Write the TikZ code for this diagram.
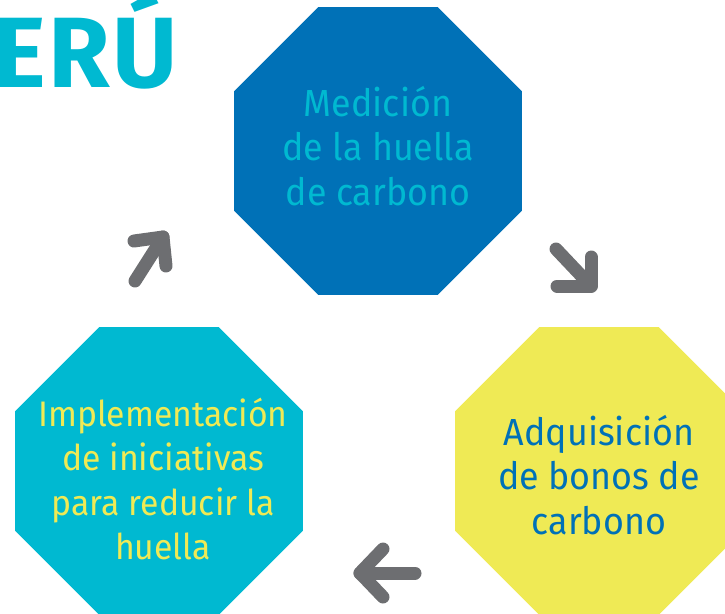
\documentclass[tikz,border=0pt]{standalone}
\usepackage{fontspec}
\setmainfont{Fira Sans}
\newfontfamily\lightf[FakeStretch=0.95]{Fira Sans}
\usetikzlibrary{shapes.geometric}
\definecolor{dblue}{HTML}{0071B7}
\definecolor{cyanb}{HTML}{00B9D1}
\definecolor{yell}{HTML}{EFEA55}
\definecolor{agray}{HTML}{6D6E71}
\begin{document}
\begin{tikzpicture}[x=1pt,y=-1pt,
  octa/.style={regular polygon, regular polygon sides=8, minimum size=311.7pt, inner sep=0pt, draw=none},
  lbl/.style={align=center, inner sep=0pt, font=\lightf\fontsize{37.7}{44.5}\selectfont},
  lbls/.style={align=center, inner sep=0pt, font=\lightf\fontsize{35.5}{44.3}\selectfont},
  arr/.style={draw=agray, line width=13pt, line cap=round, line join=round}]
\useasboundingbox (0,0) rectangle (725,613);
\clip (0,0) rectangle (725,613);
% title
\node[anchor=base west, inner sep=0pt, text=cyanb, font=\fontsize{100}{100}\selectfont\bfseries\addfontfeatures{LetterSpace=3}] (title) at (-7,87) {ERÚ};
% octagons
\node[octa, fill=dblue] (med) at (378,151) {};
\node[octa, fill=yell] (adq) at (599,471) {};
\node[octa, fill=cyanb] (imp) at (159,471) {};
% labels
\node[lbl, text=cyanb] (medt) at (378,146) {Medición\\de la huella\\de carbono};
\node[lbl, text=dblue] (adqt) at (599,475) {Adquisición\\de bonos de\\carbono};
\node[lbls, text=yell] (impt) at (163,479) {Implementación\\de iniciativas\\para reducir la\\huella};
% arrows
\coordinate (a1tail) at (135,281);
\coordinate (a1tip) at (163,237);
\coordinate (a1l) at (134,241);
\coordinate (a1r) at (166,266);
\draw[arr] (a1tail) -- (a1tip);
\draw[arr] (a1l) -- (a1tip) -- (a1r);
\coordinate (a2tail) at (556,249);
\coordinate (a2tip) at (591,286);
\coordinate (a2l) at (557,286);
\coordinate (a2r) at (591,257);
\draw[arr] (a2tail) -- (a2tip);
\draw[arr] (a2l) -- (a2tip) -- (a2r);
\coordinate (a3tail) at (415,573);
\coordinate (a3tip) at (360,573);
\coordinate (a3u) at (383,549);
\coordinate (a3d) at (383,597);
\draw[arr] (a3tail) -- (a3tip);
\draw[arr] (a3u) -- (a3tip) -- (a3d);
\end{tikzpicture}
\end{document}
